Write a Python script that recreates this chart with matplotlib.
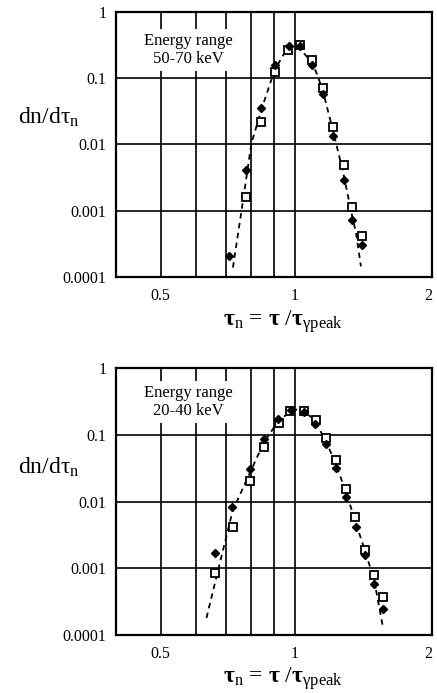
import matplotlib
matplotlib.use("Agg")
import matplotlib.pyplot as plt
from matplotlib.ticker import FixedLocator, NullLocator, FixedFormatter

plt.rcParams['font.family'] = ['Liberation Serif', 'DejaVu Serif']
plt.rcParams['mathtext.fontset'] = 'custom'
plt.rcParams['mathtext.rm'] = 'Liberation Serif'
plt.rcParams['mathtext.it'] = 'Liberation Serif:italic'
plt.rcParams['mathtext.bf'] = 'Liberation Serif:bold'

# ---- Top panel: 50-70 keV ----
top_diam_x = [0.712, 0.779, 0.842, 0.902, 0.971, 1.031, 1.093, 1.157, 1.219, 1.290, 1.344, 1.415]
top_diam_y = [0.00021, 0.0042, 0.036, 0.157, 0.30, 0.30, 0.157, 0.057, 0.0136, 0.0029, 0.00074, 0.00031]
top_sq_x = [0.776, 0.842, 0.902, 0.968, 1.031, 1.093, 1.157, 1.219, 1.294, 1.346, 1.418]
top_sq_y = [0.0016, 0.0216, 0.122, 0.265, 0.31, 0.185, 0.0717, 0.0184, 0.0049, 0.00116, 0.00042]
top_fit_x = [0.727, 0.760, 0.800, 0.842, 0.902, 0.958, 1.009, 1.099, 1.157, 1.219, 1.283, 1.340, 1.375, 1.410]
top_fit_y = [0.00014, 0.001, 0.0104, 0.033, 0.132, 0.265, 0.315, 0.169, 0.066, 0.0165, 0.0041, 0.001, 0.00046, 0.000146]

# ---- Bottom panel: 20-40 keV ----
bot_diam_x = [0.664, 0.725, 0.793, 0.853, 0.918, 0.980, 1.049, 1.114, 1.178, 1.240, 1.306, 1.375, 1.440, 1.505, 1.577]
bot_diam_y = [0.00168, 0.0082, 0.031, 0.087, 0.174, 0.237, 0.224, 0.145, 0.073, 0.032, 0.0119, 0.0041, 0.0016, 0.00058, 0.000244]
bot_sq_x = [0.664, 0.727, 0.793, 0.853, 0.921, 0.978, 1.049, 1.118, 1.174, 1.240, 1.306, 1.370, 1.440, 1.505, 1.577]
bot_sq_y = [0.00084, 0.0041, 0.0207, 0.067, 0.153, 0.231, 0.231, 0.168, 0.089, 0.042, 0.0155, 0.0058, 0.0019, 0.00079, 0.00037]
bot_fit_x = [0.634, 0.685, 0.727, 0.793, 0.853, 0.918, 0.983, 1.035, 1.110, 1.178, 1.240, 1.306, 1.375, 1.445, 1.510, 1.577]
bot_fit_y = [0.00018, 0.0015, 0.0075, 0.0266, 0.077, 0.16, 0.229, 0.25, 0.166, 0.079, 0.036, 0.0137, 0.0047, 0.0017, 0.00067, 0.00014]

labels = ["Energy range\n50-70 keV", "Energy range\n20-40 keV"]

x_grid = [0.5, 0.6, 0.7, 0.8, 0.9, 1.0]
x_ticks = [0.5, 1, 2]
x_ticklabels = ["0.5", "1", "2"]
y_ticks = [0.0001, 0.001, 0.01, 0.1, 1]
y_ticklabels = ["0.0001", "0.001", "0.01", "0.1", "1"]

fig = plt.figure(figsize=(4.37, 6.93), dpi=100)
W, H = 437, 693
rects = [(116, 11.7, 432.3, 277.3), (116, 368.3, 432.3, 635)]
datasets = [
    (top_diam_x, top_diam_y, top_sq_x, top_sq_y, top_fit_x, top_fit_y),
    (bot_diam_x, bot_diam_y, bot_sq_x, bot_sq_y, bot_fit_x, bot_fit_y),
]
box_y = [0.856, 0.874]
ylab_y = [0.604, 0.63]

for (l, t, r, b), data, lab, by, yly in zip(rects, datasets, labels, box_y, ylab_y):
    ax = fig.add_axes([l / W, 1 - b / H, (r - l) / W, (b - t) / H])
    dx, dy, sx, sy, fx, fy = data
    ax.set_xscale('log')
    ax.set_yscale('log')
    ax.set_xlim(0.397, 2.04)
    ax.set_ylim(0.0001, 1)
    for g in x_grid:
        ax.axvline(g, color='black', lw=1.2, zorder=1)
    for g in [0.001, 0.01, 0.1]:
        ax.axhline(g, color='black', lw=1.2, zorder=1)
    ax.plot(fx, fy, color='black', lw=1.3, ls=(0, (3, 2.5)), zorder=3)
    ax.plot(sx, sy, ls='none', marker='s', ms=5.8, mfc='white', mec='black', mew=1.3, zorder=4)
    ax.plot(dx, dy, ls='none', marker='D', ms=3.6, mfc='black', mec='black', zorder=5)
    ax.xaxis.set_major_locator(FixedLocator(x_ticks))
    ax.xaxis.set_major_formatter(FixedFormatter(x_ticklabels))
    ax.xaxis.set_minor_locator(NullLocator())
    ax.yaxis.set_major_locator(FixedLocator(y_ticks))
    ax.yaxis.set_major_formatter(FixedFormatter(y_ticklabels))
    ax.yaxis.set_minor_locator(NullLocator())
    ax.tick_params(axis='y', length=0, labelsize=11.5, pad=7)
    ax.tick_params(axis='x', length=0, labelsize=11.5, pad=8)
    for s in ax.spines.values():
        s.set_linewidth(1.6)
    ax.text(0.228, by, lab, transform=ax.transAxes, ha='center', va='center',
            fontsize=12, linespacing=1.15, zorder=6,
            bbox=dict(facecolor='white', edgecolor='none', pad=3))
    ax.set_ylabel(r'dn/d$\mathrm{\tau}_{\mathrm{n}}$', fontsize=17, rotation=0,
                  va='center', ha='center')
    ax.yaxis.set_label_coords(-0.213, yly)
    ax.set_xlabel(r'$\mathbf{\tau}_{\mathrm{n}}$ = $\mathbf{\tau}$ /$\mathbf{\tau}_{\mathrm{\gamma peak}}$',
                  fontsize=17, va='center')
    ax.xaxis.set_label_coords(0.528, -0.165)

fig.savefig("out.png", dpi=100)
